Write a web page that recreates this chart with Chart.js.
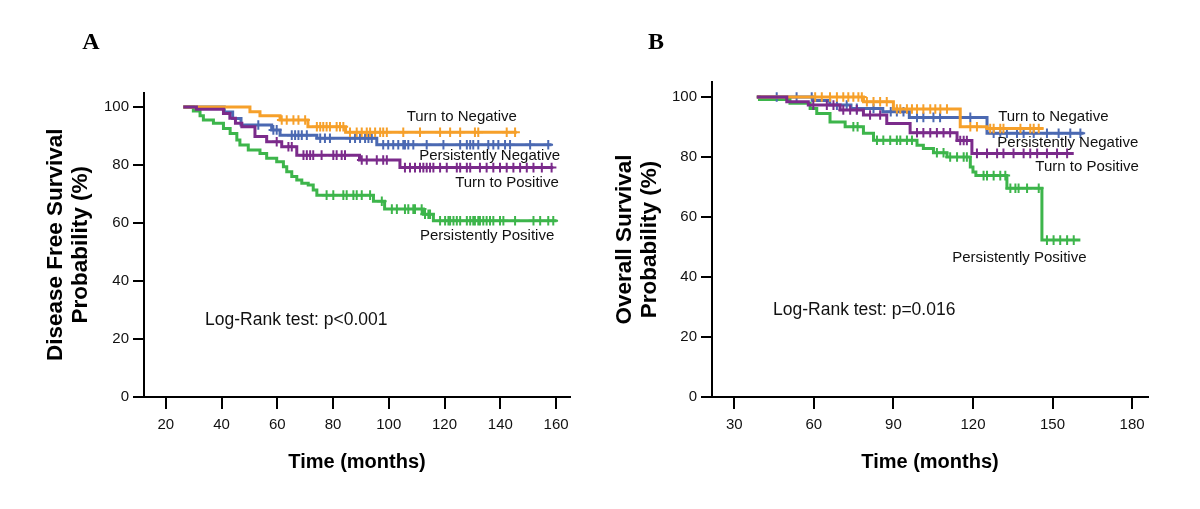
<!DOCTYPE html>
<html><head><meta charset="utf-8">
<script src="https://cdn.jsdelivr.net/npm/chart.js@4.4.1/dist/chart.umd.min.js"></script>
<style>
html,body{margin:0;padding:0;background:#fff;width:1200px;height:509px;overflow:hidden}
.box{position:absolute;top:0;width:600px;height:509px}
</style></head><body>
<div class="box" style="left:0"><canvas id="cA" width="600" height="509"></canvas></div>
<div class="box" style="left:600px"><canvas id="cB" width="600" height="509"></canvas></div>
<script>
// ---------- Panel A: Disease Free Survival ----------
const dfsXTicks = [20, 40, 60, 80, 100, 120, 140, 160];
const yTicks = [0, 20, 40, 60, 80, 100];

const dfsTurnNegTimes = [26.3, 50.2, 53.8, 61, 71, 84.5, 145.9];
const dfsTurnNegSurv  = [100, 98.4, 97, 95.5, 93.2, 91.3, 91.3];
const dfsTurnNegCens  = [61.6, 63.4, 65.8, 67.6, 70, 74.2, 75.4, 76.5, 77.7, 78.9, 81.3, 82.5, 83.7, 86.1, 88.5, 90.3, 92.1, 93.3, 95.1, 96.9, 98.0, 99.3, 105.2, 111.2, 118.4, 122, 125.6, 130.9, 132.1, 142.3, 145.3];

const dfsPersNegTimes = [26.3, 41, 44, 47, 58, 61, 74.2, 95.7, 158.4];
const dfsPersNegSurv  = [100, 98.3, 96, 93.8, 92.1, 90.3, 89.2, 87, 87];
const dfsPersNegCens  = [53.2, 58.6, 59.8, 65.2, 66.4, 67.6, 68.8, 70.6, 75.4, 77.1, 78.9, 86.1, 87.9, 89.7, 91.5, 92.7, 93.9, 98.0, 99.8, 101.6, 103.4, 105.2, 105.8, 107.0, 108.8, 113.6, 119.6, 125.6, 128.0, 129.2, 130.3, 132.1, 135.7, 137.5, 139.3, 141.7, 143.5, 150.7, 157.2];

const dfsTurnPosTimes = [26.3, 31, 40.7, 43, 45, 47.3, 52, 56.2, 61.6, 67, 89.5, 104, 159];
const dfsTurnPosSurv  = [100, 99.2, 97.8, 96.1, 94.4, 93.2, 89.8, 88, 86.3, 83.4, 81.7, 79.1, 79.1];
const dfsTurnPosCens  = [59.8, 64, 65.2, 69.4, 70.6, 71.8, 72.9, 75.9, 80.1, 81.3, 83.1, 84.3, 90.3, 92.1, 95.7, 98.0, 99.3, 105.8, 107.6, 109.4, 111.2, 112.4, 113.6, 114.8, 116.0, 118.4, 120.8, 124.4, 125.6, 128.0, 129.2, 132.7, 135.1, 137.5, 139.9, 142.3, 144.7, 147.1, 149.5, 151.9, 154.9, 158.4];

const dfsPersPosTimes = [26.3, 29.9, 32.3, 33.5, 37.1, 40.7, 43.1, 45.5, 46.6, 49.6, 53.8, 56.2, 59.8, 62.2, 63.4, 65.2, 67, 68.8, 71.1, 72.9, 74.2, 94.5, 98.5, 112.4, 116, 160.2];
const dfsPersPosSurv  = [100, 98.6, 97, 95.5, 94.4, 92.6, 90.9, 88.6, 86.9, 85.2, 84.0, 82.3, 81.1, 79.4, 77.7, 76.0, 74.8, 73.7, 73.1, 71.4, 69.6, 67.5, 64.8, 63, 60.8, 60.8];
const dfsPersPosCens  = [77.7, 80.1, 83.7, 84.9, 87.3, 88.5, 90.3, 93.3, 97.5, 101.1, 102.9, 105.8, 107.0, 108.8, 109.4, 111.8, 113.0, 114.2, 114.8, 118.4, 120.2, 121.4, 122.0, 123.2, 124.4, 125.6, 128.0, 129.2, 130.3, 130.9, 132.1, 132.7, 133.9, 135.1, 136.3, 137.5, 139.9, 141.1, 145.3, 151.9, 154.3, 157.2, 159.0];

// ---------- Panel B: Overall Survival ----------
const osXTicks = [30, 60, 90, 120, 150, 180];

const osTurnNegTimes = [38.5, 78.7, 90, 115.2, 125.3, 146.6];
const osTurnNegSurv  = [100, 98.4, 96, 90.1, 89.5, 89.5];
const osTurnNegCens  = [60.5, 63, 66.1, 68.7, 71.1, 73, 74.9, 76.8, 78.1, 80, 82.5, 85, 87.5, 91.3, 92.6, 95.1, 97, 98.9, 101.3, 103.9, 105.8, 107.7, 110.2, 119, 121.5, 126.5, 127.8, 130.3, 131.5, 137.9, 141.6, 142.9, 144.8];

const osPersNegTimes = [38.5, 59.8, 66, 74, 86, 96, 125.3, 161.7];
const osPersNegSurv  = [100, 98.8, 97.3, 96.2, 95.1, 93.2, 87.9, 87.9];
const osPersNegCens  = [46, 53.5, 59.2, 68.7, 72.4, 76.2, 82.5, 89, 91.3, 93.8, 98.9, 101.3, 105.1, 107.6, 119, 127.8, 130.3, 132.8, 136.6, 139.1, 142.9, 147.9, 152.3, 156.7, 160.5];

const osTurnPosTimes = [38.5, 49.8, 57.9, 69.9, 78.7, 87.5, 96.3, 114, 119.6, 158];
const osTurnPosSurv  = [100, 98.4, 97.3, 95.7, 94, 91.2, 88.1, 85.5, 81.2, 81.2];
const osTurnPosCens  = [59.8, 64.9, 67.4, 71.1, 73.7, 76.2, 81.2, 85, 98.9, 101.3, 103.9, 106.4, 108.9, 111.4, 115.2, 116.5, 117.7, 121.5, 125.3, 129.1, 131.5, 135.3, 139.1, 141.6, 144.2, 147.9, 151.7, 155.5];

const osPersPosTimes = [38.5, 39.5, 51, 58.6, 61.1, 66.1, 71.8, 78.7, 82.5, 98.9, 101.3, 105.1, 110.2, 119, 120, 121.1, 132.8, 146, 160.5];
const osPersPosSurv  = [100, 99.2, 97.9, 96.2, 94.5, 91.7, 90.1, 87.9, 85.6, 83.9, 82.8, 81.4, 80, 76.7, 75, 73.8, 69.6, 52.3, 52.3];
const osPersPosCens  = [74.9, 76.5, 83.8, 86.2, 88.8, 91.3, 92.6, 95.1, 97, 106.4, 108.9, 111.4, 114, 116.5, 117.7, 124, 125.3, 127.8, 130.3, 132.2, 134.1, 136, 137.2, 140.4, 144.8, 147.9, 150.4, 152.9, 155.5, 158];

const seriesNames = ['Turn to Negative', 'Persistently Negative', 'Turn to Positive', 'Persistently Positive'];
const seriesColors = ['#F6A02A', '#4B69B2', '#7B2B8B', '#3DB54B'];

const FONT = "'Liberation Sans', Arial, sans-serif";

function stepAt(times, surv, t) {
  let v = surv[0];
  for (let i = 0; i < times.length; i++) { if (times[i] <= t) v = surv[i]; }
  return v;
}

function makeDatasets(list) {
  const ds = [];
  const orders = [2, 3, 1, 4];
  list.forEach((s, k) => {
    const color = seriesColors[k];
    ds.push({
      type: 'line', label: seriesNames[k],
      data: s.times.map((t, i) => ({x: t, y: s.surv[i]})),
      borderColor: color, borderWidth: 3, stepped: true,
      pointRadius: 0, fill: false, order: orders[k] * 2
    });
    ds.push({
      type: 'scatter', label: seriesNames[k] + ' censored',
      data: s.cens.map(t => ({x: t, y: stepAt(s.times, s.surv, t)})),
      pointStyle: 'cross', pointRadius: 4.8, borderColor: color,
      backgroundColor: color, borderWidth: 2, order: orders[k] * 2 - 1
    });
  });
  return ds;
}

const annot = {
  id: 'annot',
  afterDatasetsDraw(chart, args, opts) {
    const ctx = chart.ctx, xs = chart.scales.x, ys = chart.scales.y;
    ctx.save();
    ctx.fillStyle = '#111';
    ctx.textBaseline = 'middle';
    ctx.textAlign = 'left';
    ctx.font = '15px ' + FONT;
    opts.labels.forEach(l => {
      ctx.fillText(l.text, xs.getPixelForValue(l.x), ys.getPixelForValue(l.y));
    });
    ctx.font = '17.5px ' + FONT;
    ctx.fillText(opts.test.text, xs.getPixelForValue(opts.test.x), ys.getPixelForValue(opts.test.y));
    ctx.font = "bold 24px 'Liberation Serif', 'Times New Roman', serif";
    ctx.textAlign = 'center';
    ctx.fillStyle = '#000';
    ctx.fillText(opts.letter.text, opts.letter.px, opts.letter.py);
    ctx.restore();
  }
};

function build(id, c) {
  new Chart(document.getElementById(id), {
    data: {datasets: makeDatasets(c.series)},
    plugins: [annot],
    options: {
      responsive: false, animation: false, devicePixelRatio: 1,
      layout: {padding: {top: c.padTop, right: c.padRight, left: 0, bottom: 0}},
      plugins: {legend: {display: false}, tooltip: {enabled: false}, annot: c.annot},
      scales: {
        x: {
          type: 'linear', min: c.xMin, max: c.xMax,
          afterBuildTicks: s => { s.ticks = c.xTicks.map(v => ({value: v})); },
          afterFit: s => { s.height = 112; },
          ticks: {font: {family: FONT, size: 15}, color: '#111', padding: 7, maxRotation: 0, autoSkip: false},
          grid: {drawOnChartArea: false, tickLength: 12, color: '#000', lineWidth: 2},
          border: {display: true, color: '#000', width: 2},
          title: {display: true, text: 'Time (months)', color: '#000',
                  font: {family: FONT, size: 20, weight: 'bold', lineHeight: 1.25},
                  padding: {top: 0, bottom: 34.5}}
        },
        y: {
          type: 'linear', min: 0, max: 105,
          afterBuildTicks: s => { s.ticks = yTicks.map(v => ({value: v})); },
          afterFit: s => { s.width = c.yWidth; },
          ticks: {font: {family: FONT, size: 15}, color: '#111', padding: 4},
          grid: {drawOnChartArea: false, tickLength: 11, color: '#000', lineWidth: 2},
          border: {display: true, color: '#000', width: 2},
          title: {display: true, text: c.yTitle, color: '#000',
                  font: {family: FONT, size: 22.5, weight: 'bold', lineHeight: 25 / 22.5},
                  padding: {top: c.yTitlePad, bottom: 0}}
        }
      }
    }
  });
}

build('cA', {
  series: [
    {times: dfsTurnNegTimes, surv: dfsTurnNegSurv, cens: dfsTurnNegCens},
    {times: dfsPersNegTimes, surv: dfsPersNegSurv, cens: dfsPersNegCens},
    {times: dfsTurnPosTimes, surv: dfsTurnPosSurv, cens: dfsTurnPosCens},
    {times: dfsPersPosTimes, surv: dfsPersPosSurv, cens: dfsPersPosCens}
  ],
  xMin: 12.2, xMax: 165, xTicks: dfsXTicks,
  padTop: 92.5, padRight: 30, yWidth: 144, yTitlePad: 43.5,
  yTitle: ['Disease Free Survival', 'Probability (%)'],
  annot: {
    labels: [
      {text: seriesNames[0], x: 106.4, y: 96.7},
      {text: seriesNames[1], x: 110.9, y: 83.1},
      {text: seriesNames[2], x: 123.8, y: 73.8},
      {text: seriesNames[3], x: 111.2, y: 55.6}
    ],
    test: {text: 'Log-Rank test: p<0.001', x: 34.1, y: 26.6},
    letter: {text: 'A', px: 91, py: 43}
  }
});

build('cB', {
  series: [
    {times: osTurnNegTimes, surv: osTurnNegSurv, cens: osTurnNegCens},
    {times: osPersNegTimes, surv: osPersNegSurv, cens: osPersNegCens},
    {times: osTurnPosTimes, surv: osTurnPosSurv, cens: osTurnPosCens},
    {times: osPersPosTimes, surv: osPersPosSurv, cens: osPersPosCens}
  ],
  xMin: 21.6, xMax: 186, xTicks: osXTicks,
  padTop: 82, padRight: 52, yWidth: 112, yTitlePad: 12.5,
  yTitle: ['Overall Survival', 'Probability (%)'],
  annot: {
    labels: [
      {text: seriesNames[0], x: 129.5, y: 93.4},
      {text: seriesNames[1], x: 129.2, y: 84.6},
      {text: seriesNames[2], x: 143.5, y: 76.6},
      {text: seriesNames[3], x: 112.2, y: 46.5}
    ],
    test: {text: 'Log-Rank test: p=0.016', x: 44.6, y: 29.1},
    letter: {text: 'B', px: 56, py: 43}
  }
});
</script>
</body></html>
